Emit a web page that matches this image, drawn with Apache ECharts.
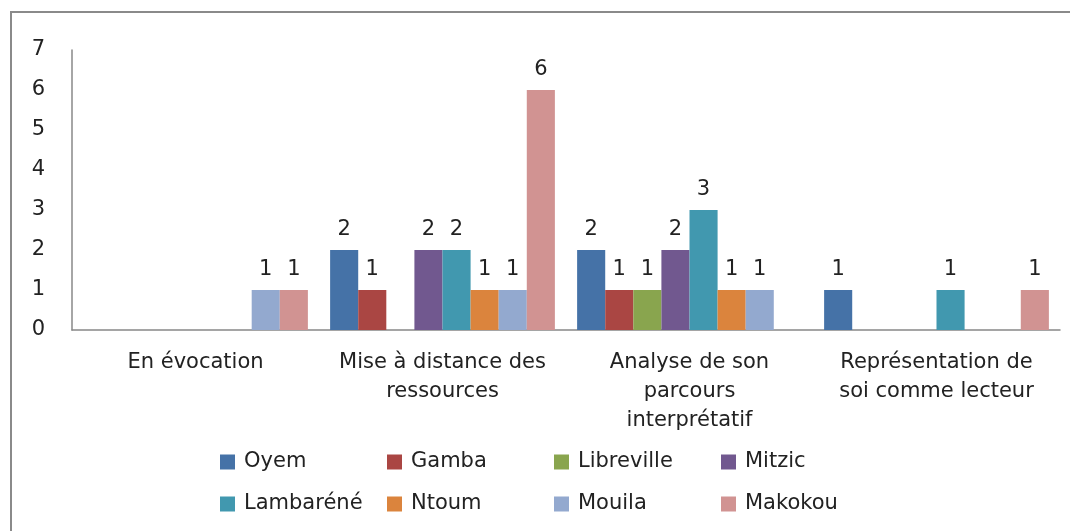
<!DOCTYPE html>
<html>
<head>
<meta charset="utf-8">
<script src="https://cdn.jsdelivr.net/npm/echarts@6/dist/echarts.min.js"></script>
<style>
  html, body { margin: 0; padding: 0; background: #fff; overflow: hidden; }
  #frame { position: absolute; left: 10px; top: 11px; width: 1100px; height: 560px; border: 2px solid #8a8a8a; box-sizing: border-box; }
  #main { position: absolute; left: 0; top: 0; width: 1070px; height: 531px; }
</style>
</head>
<body>
<div id="frame"></div>
<div id="main"></div>
<script>
// catégories et séries
var categories = ['En évocation', 'Mise à distance des\nressources', 'Analyse de son\nparcours\ninterprétatif', 'Représentation de\nsoi comme lecteur'];
var oyem       = [0, 2, 2, 1];
var gamba      = [0, 1, 1, 0];
var libreville = [0, 0, 1, 0];
var mitzic     = [0, 2, 2, 0];
var lambarene  = [0, 2, 3, 1];
var ntoum      = [0, 1, 1, 0];
var mouila     = [1, 1, 1, 0];
var makokou    = [1, 6, 0, 1];
var yTicks = [0, 1, 2, 3, 4, 5, 6, 7];

var seriesDefs = [
  { name: 'Oyem', data: oyem, color: '#4572A7' },
  { name: 'Gamba', data: gamba, color: '#AA4643' },
  { name: 'Libreville', data: libreville, color: '#89A54E' },
  { name: 'Mitzic', data: mitzic, color: '#71588F' },
  { name: 'Lambaréné', data: lambarene, color: '#4198AF' },
  { name: 'Ntoum', data: ntoum, color: '#DB843D' },
  { name: 'Mouila', data: mouila, color: '#93A9CF' },
  { name: 'Makokou', data: makokou, color: '#D19392' }
];

var font = 'DejaVu Sans';
var fs = 21;
var chart = echarts.init(document.getElementById('main'), null, { renderer: 'canvas' });

var series = seriesDefs.map(function (s) {
  return {
    name: s.name,
    type: 'bar',
    data: s.data,
    barGap: '0%',
    barCategoryGap: '9%',
    itemStyle: { color: s.color },
    label: {
      show: true,
      position: 'top',
      distance: 10,
      color: '#222',
      fontFamily: font,
      fontSize: fs,
      formatter: function (p) { return p.value === 0 ? '' : p.value; }
    }
  };
});

chart.setOption({
  animation: false,
  backgroundColor: 'transparent',
  color: seriesDefs.map(function (s) { return s.color; }),
  grid: { left: 72, right: 10, top: 50, bottom: 201, containLabel: false },
  legend: {
    data: seriesDefs.map(function (s) { return s.name; }),
    left: 215,
    top: 436,
    width: 690,
    itemWidth: 15,
    itemHeight: 15,
    itemGap: 0,
    icon: 'rect',
    textStyle: {
      fontFamily: font,
      fontSize: fs,
      color: '#222',
      width: 143,
      padding: [0, 0, 0, 4],
      lineHeight: 42
    }
  },
  xAxis: {
    type: 'category',
    data: categories,
    axisLine: { lineStyle: { color: '#888', width: 1.5 } },
    axisTick: { show: false },
    axisLabel: {
      interval: 0,
      margin: 18,
      color: '#222',
      fontFamily: font,
      fontSize: fs,
      lineHeight: 29
    }
  },
  yAxis: {
    type: 'value',
    min: yTicks[0],
    max: yTicks[yTicks.length - 1],
    interval: 1,
    axisLine: { show: true, lineStyle: { color: '#888', width: 1.5 } },
    axisTick: { show: false },
    splitLine: { show: false },
    axisLabel: {
      margin: 27,
      color: '#222',
      fontFamily: font,
      fontSize: fs
    }
  },
  series: series
});
</script>
</body>
</html>
